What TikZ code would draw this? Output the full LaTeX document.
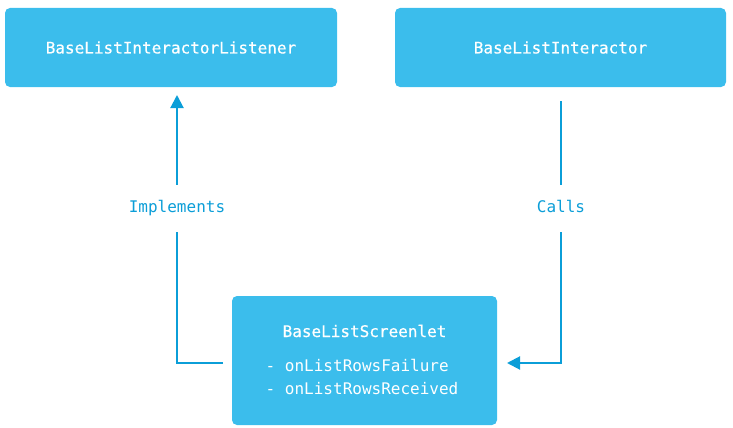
\documentclass[tikz,border=0pt]{standalone}
\usepackage{fontspec}
\setmonofont{DejaVu Sans Mono}
\newfontfamily\titlefont[FakeBold=0.5]{DejaVu Sans Mono}
\usetikzlibrary{arrows.meta}
\definecolor{boxblue}{HTML}{3BBDEC}
\definecolor{lineblue}{HTML}{0B9ED8}
\tikzset{
  x=1pt, y=-1pt,
  box/.style={fill=boxblue, rounded corners=5pt, text=white, font=\titlefont\fontsize{16}{20}\selectfont, inner sep=0pt},
  item/.style={text=white, font=\ttfamily\fontsize{16}{20}\selectfont, anchor=west, inner sep=0pt},
  conn/.style={draw=lineblue, line width=2pt},
  tip/.style={-{Triangle[length=13pt,width=13pt]}},
  lbl/.style={fill=white, text=lineblue, font=\ttfamily\fontsize{16}{20}\selectfont, inner xsep=4pt, inner ysep=0pt, text height=12pt, text depth=4pt, minimum height=47pt}
}
\begin{document}
\begin{tikzpicture}
\useasboundingbox (0,0) rectangle (733,428);
\node[box, minimum width=332pt, minimum height=79pt] (bll) at (171,47.5) {BaseListInteractorListener};
\node[box, minimum width=331pt, minimum height=79pt] (bli) at (560.5,47.5) {BaseListInteractor};
\node[box, minimum width=265pt, minimum height=129pt] (bls) at (364.5,360.5) {};
\node[text=white, font=\titlefont\fontsize{16}{20}\selectfont] (title) at (364.5,331) {BaseListScreenlet};
\node[item] (m1) at (265.5,365) {- onListRowsFailure};
\node[item] (m2) at (265.5,389) {- onListRowsReceived};
\coordinate (a1) at (223,363);
\coordinate (a2) at (177,95);
\coordinate (c1) at (561,101);
\coordinate (c2) at (507,363);
\draw[conn, tip] (a1) -| (a2);
\draw[conn, tip] (c1) |- (c2);
\node[lbl] (impl) at (177,208.5) {Implements};
\node[lbl] (calls) at (561,208.5) {Calls};
\end{tikzpicture}
\end{document}
